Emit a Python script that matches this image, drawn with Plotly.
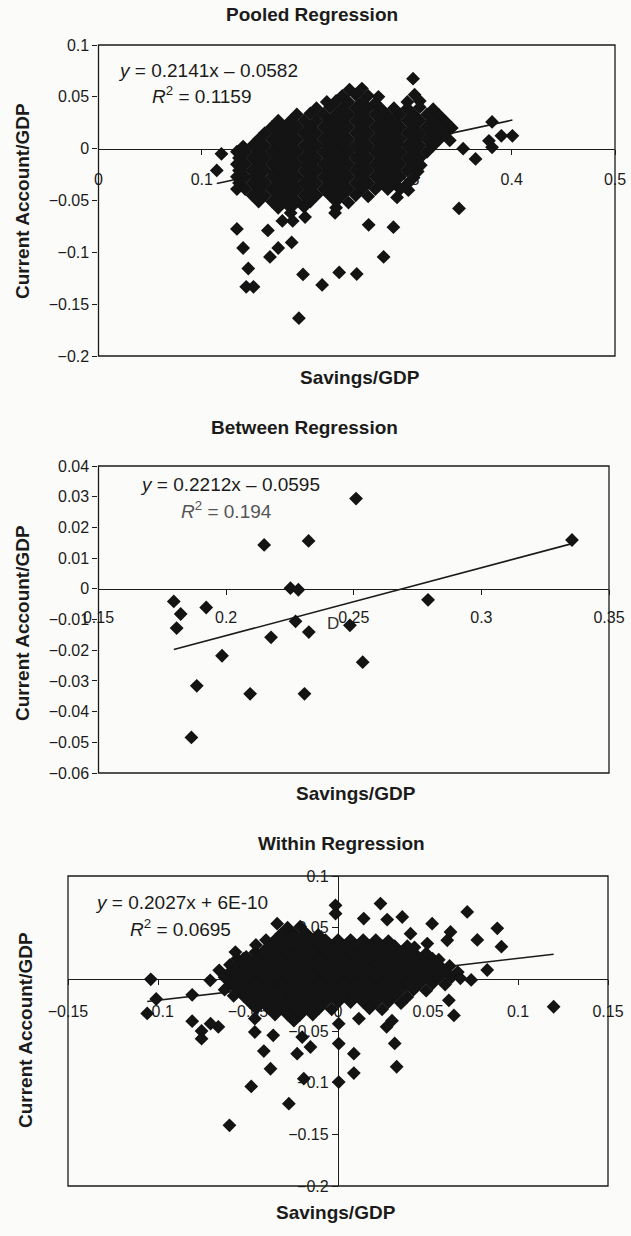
import plotly.graph_objects as go

# ---------------- data ----------------
pooled_points = [
    (0.3045, 0.0675),
    (0.243, 0.057), (0.255, 0.058),
    (0.236, 0.051), (0.249, 0.052), (0.261, 0.051), (0.271, 0.050), (0.306, 0.052),
    (0.221, 0.045), (0.230, 0.046), (0.242, 0.045), (0.255, 0.045), (0.268, 0.044), (0.299, 0.045), (0.311, 0.046),
    (0.211, 0.039), (0.224, 0.040), (0.236, 0.039), (0.249, 0.039), (0.261, 0.039), (0.274, 0.038), (0.286, 0.039),
    (0.299, 0.039), (0.311, 0.040), (0.324, 0.038),
    (0.192, 0.033), (0.205, 0.034), (0.218, 0.033), (0.230, 0.033), (0.242, 0.033), (0.255, 0.033), (0.268, 0.033),
    (0.280, 0.032), (0.292, 0.033), (0.305, 0.033), (0.318, 0.033), (0.330, 0.032),
    (0.174, 0.027), (0.186, 0.027), (0.199, 0.027), (0.211, 0.027), (0.224, 0.027), (0.236, 0.027), (0.249, 0.027),
    (0.261, 0.027), (0.274, 0.027), (0.286, 0.027), (0.299, 0.027), (0.311, 0.027), (0.324, 0.027), (0.336, 0.026),
    (0.168, 0.021), (0.180, 0.021), (0.192, 0.021), (0.205, 0.021), (0.218, 0.021), (0.230, 0.021), (0.242, 0.021),
    (0.255, 0.021), (0.268, 0.021), (0.280, 0.021), (0.292, 0.021), (0.305, 0.021), (0.318, 0.021), (0.330, 0.021),
    (0.342, 0.020),
    (0.161, 0.015), (0.174, 0.015), (0.186, 0.015), (0.199, 0.015), (0.211, 0.015), (0.224, 0.015), (0.236, 0.015),
    (0.249, 0.015), (0.261, 0.015), (0.274, 0.015), (0.286, 0.015), (0.299, 0.015), (0.311, 0.015), (0.324, 0.015),
    (0.336, 0.015),
    (0.155, 0.009), (0.168, 0.009), (0.180, 0.009), (0.192, 0.009), (0.205, 0.009), (0.218, 0.009), (0.230, 0.009),
    (0.242, 0.009), (0.255, 0.009), (0.268, 0.009), (0.280, 0.009), (0.292, 0.009), (0.305, 0.009), (0.318, 0.009),
    (0.330, 0.009), (0.340, 0.008),
    (0.140, 0.002), (0.149, 0.003), (0.161, 0.003), (0.174, 0.003), (0.186, 0.003), (0.199, 0.003), (0.211, 0.003),
    (0.224, 0.003), (0.236, 0.003), (0.249, 0.003), (0.261, 0.003), (0.274, 0.003), (0.286, 0.003), (0.299, 0.003),
    (0.311, 0.003), (0.324, 0.003),
    (0.134, -0.003), (0.142, -0.003), (0.155, -0.003), (0.168, -0.003), (0.180, -0.003), (0.192, -0.003),
    (0.205, -0.003), (0.218, -0.003), (0.230, -0.003), (0.242, -0.003), (0.255, -0.003), (0.268, -0.003),
    (0.280, -0.003), (0.292, -0.003), (0.305, -0.003), (0.318, -0.003),
    (0.136, -0.009), (0.149, -0.009), (0.161, -0.009), (0.174, -0.009), (0.186, -0.009), (0.199, -0.009),
    (0.211, -0.009), (0.224, -0.009), (0.236, -0.009), (0.249, -0.009), (0.261, -0.009), (0.274, -0.009),
    (0.286, -0.009), (0.299, -0.009), (0.311, -0.009),
    (0.134, -0.015), (0.142, -0.015), (0.155, -0.015), (0.168, -0.015), (0.180, -0.015), (0.192, -0.015),
    (0.205, -0.015), (0.218, -0.015), (0.230, -0.015), (0.242, -0.015), (0.255, -0.015), (0.268, -0.015),
    (0.280, -0.015), (0.292, -0.015), (0.305, -0.015), (0.312, -0.016),
    (0.136, -0.021), (0.149, -0.021), (0.161, -0.021), (0.174, -0.021), (0.186, -0.021), (0.199, -0.021),
    (0.211, -0.021), (0.224, -0.021), (0.236, -0.021), (0.249, -0.021), (0.261, -0.021), (0.274, -0.021),
    (0.286, -0.021), (0.299, -0.021), (0.309, -0.022),
    (0.134, -0.027), (0.142, -0.027), (0.155, -0.027), (0.168, -0.027), (0.180, -0.027), (0.192, -0.027),
    (0.205, -0.027), (0.218, -0.027), (0.230, -0.027), (0.242, -0.027), (0.255, -0.027), (0.268, -0.027),
    (0.280, -0.027), (0.292, -0.027), (0.305, -0.028),
    (0.136, -0.033), (0.149, -0.033), (0.161, -0.033), (0.174, -0.033), (0.186, -0.033), (0.199, -0.033),
    (0.211, -0.033), (0.224, -0.033), (0.236, -0.033), (0.249, -0.033), (0.261, -0.033), (0.274, -0.033),
    (0.286, -0.033), (0.299, -0.034),
    (0.134, -0.039), (0.142, -0.039), (0.155, -0.039), (0.168, -0.039), (0.180, -0.039), (0.192, -0.039),
    (0.205, -0.039), (0.218, -0.039), (0.230, -0.039), (0.242, -0.039), (0.255, -0.039), (0.268, -0.039),
    (0.280, -0.039), (0.292, -0.039), (0.300, -0.040),
    (0.149, -0.045), (0.161, -0.045), (0.174, -0.045), (0.186, -0.045), (0.199, -0.045), (0.211, -0.045),
    (0.224, -0.045), (0.236, -0.045), (0.249, -0.045), (0.261, -0.046), (0.289, -0.047),
    (0.155, -0.051), (0.168, -0.051), (0.180, -0.051), (0.192, -0.051), (0.205, -0.051), (0.230, -0.051),
    (0.242, -0.052),
    (0.174, -0.057), (0.186, -0.057), (0.199, -0.056), (0.230, -0.057),
    (0.186, -0.062), (0.229, -0.062), (0.200, -0.066),
    (0.1145, -0.021), (0.119, -0.005),
    (0.349, -0.0576), (0.353, 0.000), (0.365, -0.0099), (0.378, 0.0076), (0.381, 0.0013), (0.381, 0.0258),
    (0.390, 0.0124), (0.4007, 0.0124),
    (0.134, -0.0774), (0.164, -0.0789), (0.178, -0.0697), (0.188, -0.0697), (0.140, -0.0958), (0.174, -0.0958),
    (0.187, -0.0904), (0.166, -0.1044), (0.145, -0.1156), (0.143, -0.1333), (0.150, -0.1333), (0.198, -0.1213),
    (0.2165, -0.1314), (0.233, -0.1194), (0.250, -0.1209), (0.194, -0.1635), (0.2615, -0.0735), (0.2855, -0.0757),
    (0.276, -0.1044),
]
pooled_savings = [p[0] for p in pooled_points]
pooled_ca = [p[1] for p in pooled_points]

between_savings = [0.1795, 0.1822, 0.1806, 0.1922, 0.1885, 0.1864, 0.1984, 0.2094, 0.2149, 0.2176, 0.2252,
                   0.2283, 0.2272, 0.2323, 0.2324, 0.2307, 0.2509, 0.2485, 0.2535, 0.2791, 0.3355]
between_ca = [-0.0041, -0.0082, -0.0128, -0.0061, -0.0316, -0.0484, -0.0218, -0.0342, 0.0143, -0.0158, 0.0002,
              -0.0003, -0.0106, 0.0156, -0.0141, -0.0342, 0.0294, -0.0119, -0.0239, -0.0036, 0.0159]

within_points = [
    (-0.028, 0.050), (-0.021, 0.051),
    (-0.0315, 0.044), (-0.0245, 0.044), (-0.0175, 0.044), (-0.011, 0.043),
    (-0.040, 0.038), (-0.035, 0.038), (-0.028, 0.038), (-0.021, 0.038), (-0.014, 0.038), (-0.007, 0.038),
    (0.000, 0.038), (0.007, 0.038), (0.014, 0.038), (0.021, 0.038), (0.028, 0.037),
    (-0.0385, 0.032), (-0.0315, 0.032), (-0.0245, 0.032), (-0.0175, 0.032), (-0.0105, 0.032), (-0.0035, 0.032),
    (0.0035, 0.032), (0.0105, 0.032), (0.0175, 0.032), (0.0245, 0.032), (0.0315, 0.032), (0.0385, 0.032),
    (0.0425, 0.031),
    (-0.046, 0.026), (-0.042, 0.026), (-0.035, 0.026), (-0.028, 0.026), (-0.021, 0.026), (-0.014, 0.026),
    (-0.007, 0.026), (0.000, 0.026), (0.007, 0.026), (0.014, 0.026), (0.021, 0.026), (0.028, 0.026),
    (0.035, 0.026), (0.042, 0.026), (0.049, 0.025),
    (-0.056, 0.020), (-0.0525, 0.020), (-0.0455, 0.020), (-0.0385, 0.020), (-0.0315, 0.020), (-0.0245, 0.020),
    (-0.0175, 0.020), (-0.0105, 0.020), (-0.0035, 0.020), (0.0035, 0.020), (0.0105, 0.020), (0.0175, 0.020),
    (0.0245, 0.020), (0.0315, 0.020), (0.0385, 0.020), (0.0455, 0.020), (0.0525, 0.020), (0.056, 0.019),
    (-0.060, 0.014), (-0.056, 0.014), (-0.049, 0.014), (-0.042, 0.014), (-0.035, 0.014), (-0.028, 0.014),
    (-0.021, 0.014), (-0.014, 0.014), (-0.007, 0.014), (0.000, 0.014), (0.007, 0.014), (0.014, 0.014),
    (0.021, 0.014), (0.028, 0.014), (0.035, 0.014), (0.042, 0.014), (0.049, 0.014), (0.056, 0.014), (0.062, 0.013),
    (-0.0595, 0.008), (-0.0525, 0.008), (-0.0455, 0.008), (-0.0385, 0.008), (-0.0315, 0.008), (-0.0245, 0.008),
    (-0.0175, 0.008), (-0.0105, 0.008), (-0.0035, 0.008), (0.0035, 0.008), (0.0105, 0.008), (0.0175, 0.008),
    (0.0245, 0.008), (0.0315, 0.008), (0.0385, 0.008), (0.0455, 0.008), (0.0525, 0.008), (0.0595, 0.008),
    (0.0665, 0.007),
    (-0.063, 0.002), (-0.056, 0.002), (-0.049, 0.002), (-0.042, 0.002), (-0.035, 0.002), (-0.028, 0.002),
    (-0.021, 0.002), (-0.014, 0.002), (-0.007, 0.002), (0.000, 0.002), (0.007, 0.002), (0.014, 0.002),
    (0.021, 0.002), (0.028, 0.002), (0.035, 0.002), (0.042, 0.002), (0.049, 0.002), (0.056, 0.002),
    (0.063, 0.002), (0.068, 0.001),
    (-0.0595, -0.004), (-0.0525, -0.004), (-0.0455, -0.004), (-0.0385, -0.004), (-0.0315, -0.004),
    (-0.0245, -0.004), (-0.0175, -0.004), (-0.0105, -0.004), (-0.0035, -0.004), (0.0035, -0.004),
    (0.0105, -0.004), (0.0175, -0.004), (0.0245, -0.004), (0.0315, -0.004), (0.0385, -0.004), (0.0455, -0.004),
    (0.0525, -0.004), (0.0595, -0.005),
    (-0.063, -0.010), (-0.056, -0.010), (-0.049, -0.010), (-0.042, -0.010), (-0.035, -0.010), (-0.028, -0.010),
    (-0.021, -0.010), (-0.014, -0.010), (-0.007, -0.010), (0.000, -0.010), (0.007, -0.010), (0.014, -0.010),
    (0.021, -0.010), (0.028, -0.010), (0.035, -0.010), (0.042, -0.010), (0.049, -0.011),
    (-0.058, -0.016), (-0.0525, -0.016), (-0.0455, -0.016), (-0.0385, -0.016), (-0.0315, -0.016),
    (-0.0245, -0.016), (-0.0175, -0.016), (-0.0105, -0.016), (-0.0035, -0.016), (0.0035, -0.016),
    (0.0105, -0.016), (0.0175, -0.016), (0.0245, -0.016), (0.0315, -0.016), (0.0385, -0.017),
    (-0.049, -0.022), (-0.042, -0.022), (-0.035, -0.022), (-0.028, -0.022), (-0.021, -0.022), (-0.014, -0.022),
    (-0.007, -0.022), (0.000, -0.022), (0.007, -0.022), (0.014, -0.022), (0.021, -0.022), (0.028, -0.022),
    (0.035, -0.023),
    (-0.0455, -0.028), (-0.0385, -0.028), (-0.0315, -0.028), (-0.0245, -0.028), (-0.0175, -0.028),
    (-0.0105, -0.028), (-0.0035, -0.029), (0.0175, -0.028), (0.0245, -0.029),
    (-0.035, -0.034), (-0.028, -0.034), (-0.021, -0.034), (-0.014, -0.034),
    (-0.0245, -0.040),
    (-0.104, 0.000), (-0.101, -0.019), (-0.106, -0.033), (-0.081, -0.015), (-0.071, -0.001), (-0.066, 0.0087),
    (-0.057, 0.0264), (-0.051, 0.0216), (-0.0338, 0.0539), (-0.0456, 0.0333),
    (-0.081, -0.0405), (-0.0758, -0.050), (-0.0665, -0.046), (-0.0708, -0.0429), (-0.0758, -0.0574),
    (-0.0014, 0.0716), (-0.0014, 0.0636), (0.0236, 0.0733), (0.0143, 0.0588), (0.0273, 0.0578), (0.0357, 0.0603),
    (0.0523, 0.0539), (0.0625, 0.0458), (0.0718, 0.0652), (0.0403, 0.0442), (0.0496, 0.0346), (0.0607, 0.0378),
    (0.0774, 0.0381), (0.0885, 0.0494), (0.0908, 0.0316), (0.0829, 0.009), (0.1198, -0.0265), (0.0616, -0.0203),
    (0.0644, -0.0349), (0.074, -0.0006), (0.030, -0.040), (0.027, -0.046), (0.0315, -0.062), (0.0326, -0.0846),
    (-0.0462, -0.051), (-0.036, -0.0542), (-0.0462, -0.038), (-0.0412, -0.0694), (-0.0375, -0.0865),
    (-0.0482, -0.1036), (-0.0273, -0.1203), (-0.0603, -0.1413), (-0.0227, -0.0719), (-0.019, -0.0961),
    (-0.0153, -0.0655), (-0.0199, -0.0559), (0.0004, -0.0622), (0.0004, -0.0429), (0.0004, -0.0994),
    (0.0088, -0.0719), (0.0088, -0.0907), (0.0116, -0.038),
]
within_savings = [p[0] for p in within_points]
within_ca = [p[1] for p in within_points]

titles = ["Pooled Regression", "Between Regression", "Within Regression"]
equations = ["<i>y</i> = 0.2141x \u2013 0.0582", "<i>y</i> = 0.2212x \u2013 0.0595", "<i>y</i> = 0.2027x + 6E-10"]
r2_texts = ["<i>R</i><sup>2</sup> = 0.1159", "<i>R</i><sup>2</sup> = 0.194", "<i>R</i><sup>2</sup> = 0.0695"]
slopes = [0.2141, 0.2212, 0.2027]
intercepts = [-0.0582, -0.0595, 6e-10]
x_title = "Savings/GDP"
y_title = "Current Account/GDP"

# ---------------- layout constants (pixels) ----------------
W, H = 631, 1236
FONT = "Liberation Sans, Arial, Helvetica, sans-serif"
INK = "#1b1b1b"
MARK = "#141414"


def fx(p):
    return p / W


def fy(p):
    return 1 - p / H


panels = [
    dict(L=98.5, R=615, T=45, B=356, xr=[0, 0.5], yr=[-0.2, 0.1], xd=0.1, yd=0.05, yaxis_at=None,
         title=(312, 15), ytitle=(22, 201), xtitle=(360, 377), eq=(116, 70), r2=(150, 95), r2col=INK, stand=11),
    dict(L=98.5, R=609, T=466, B=773, xr=[0.15, 0.35], yr=[-0.06, 0.04], xd=0.05, yd=0.01, yaxis_at=None,
         title=(304, 427), ytitle=(22, 623), xtitle=(356, 793), eq=(138, 485), r2=(179, 510), r2col="#555555", stand=9),
    dict(L=68, R=608, T=876, B=1186, xr=[-0.15, 0.15], yr=[-0.2, 0.1], xd=0.05, yd=0.05, yaxis_at=0,
         title=(341, 843), ytitle=(25, 1030), xtitle=(336, 1212), eq=(93, 902), r2=(128, 928), r2col=INK, stand=12),
]

series = [(pooled_savings, pooled_ca), (between_savings, between_ca), (within_savings, within_ca)]

fig = go.Figure()
annotations = []
shapes = []

for i, (pn, (xs, ys)) in enumerate(zip(panels, series)):
    n = "" if i == 0 else str(i + 1)
    xa, ya = "x" + n, "y" + n
    # trend line (drawn below the markers)
    x0, x1 = min(xs), max(xs)
    fig.add_trace(go.Scatter(x=[x0, x1], y=[slopes[i] * x0 + intercepts[i], slopes[i] * x1 + intercepts[i]],
                             mode="lines", line=dict(color=INK, width=1.6), xaxis=xa, yaxis=ya,
                             hoverinfo="skip", showlegend=False))
    fig.add_trace(go.Scatter(x=xs, y=ys, mode="markers", xaxis=xa, yaxis=ya, showlegend=False,
                             marker=dict(symbol="diamond", size=9, color=MARK, line=dict(color=MARK, width=1.5))))

    ylo, yhi = pn["yr"]
    zero_px = pn["B"] - (0 - ylo) / (yhi - ylo) * (pn["B"] - pn["T"])
    common = dict(showgrid=False, zeroline=False, showline=True, linecolor=INK, linewidth=1.3,
                  ticks="outside", ticklen=5, tickwidth=1.2, tickcolor=INK, layer="below traces",
                  automargin=False, tickfont=dict(family=FONT, size=16, color=INK))
    xaxis = dict(common, domain=[fx(pn["L"]), fx(pn["R"])], range=pn["xr"], tick0=pn["xr"][0], dtick=pn["xd"],
                 anchor="free", position=fy(zero_px), ticklabelstandoff=pn["stand"])
    if pn["yaxis_at"] is None:
        yaxis = dict(common, domain=[fy(pn["B"]), fy(pn["T"])], range=pn["yr"], tick0=0, dtick=pn["yd"],
                     anchor=xa)
    else:
        xlo, xhi = pn["xr"]
        ypos = pn["L"] + (pn["yaxis_at"] - xlo) / (xhi - xlo) * (pn["R"] - pn["L"])
        yaxis = dict(common, domain=[fy(pn["B"]), fy(pn["T"])], range=pn["yr"], tick0=0, dtick=pn["yd"],
                     anchor="free", position=fx(ypos), ticklen=6)
    fig.update_layout(**{"xaxis" + n: xaxis, "yaxis" + n: yaxis})

    shapes.append(dict(type="rect", xref=xa + " domain", yref=ya + " domain", x0=0, x1=1, y0=0, y1=1,
                       line=dict(color=INK, width=1.3), fillcolor="rgba(0,0,0,0)", layer="above"))

    def txt(text, pos, size, bold=False, anchor="center", color=INK, angle=0):
        return dict(text=("<b>%s</b>" % text) if bold else text, x=fx(pos[0]), y=fy(pos[1]),
                    xref="paper", yref="paper", xanchor=anchor, yanchor="middle", showarrow=False,
                    textangle=angle, font=dict(family=FONT, size=size, color=color))

    annotations.append(txt(titles[i], pn["title"], 19, bold=True))
    annotations.append(txt(y_title, pn["ytitle"], 19, bold=True, angle=-90))
    annotations.append(txt(x_title, pn["xtitle"], 19, bold=True))
    annotations.append(txt(equations[i], pn["eq"], 19, anchor="left"))
    annotations.append(txt(r2_texts[i], pn["r2"], 19, anchor="left", color=pn["r2col"]))

# stray "D" printed inside the between panel
annotations.append(dict(text="D", x=0.2417, y=-0.0112, xref="x2", yref="y2", showarrow=False,
                        font=dict(family=FONT, size=17, color="#333333")))

fig.update_layout(width=W, height=H, margin=dict(l=0, r=0, t=0, b=0, pad=0), autosize=False,
                  paper_bgcolor="#fbfbf9", plot_bgcolor="#fbfbf9",
                  annotations=annotations, shapes=shapes, showlegend=False)

fig.write_html("out.html", config={"displayModeBar": False},
               post_script="document.body.style.margin='0';document.body.style.overflow='hidden';")
